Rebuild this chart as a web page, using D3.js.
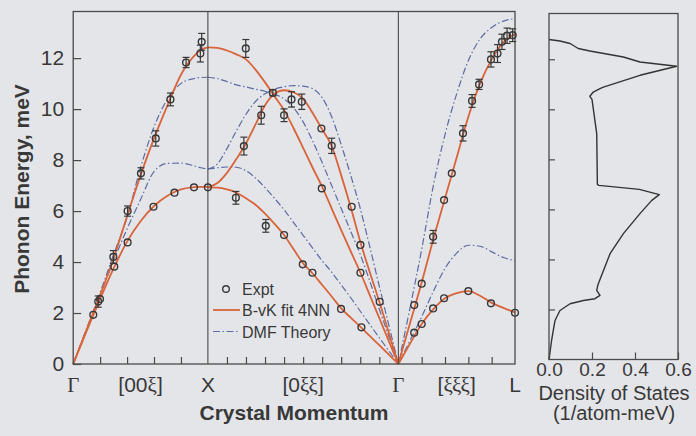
<!DOCTYPE html>
<html><head><meta charset="utf-8">
<script src="https://cdn.jsdelivr.net/npm/d3@7"></script>
<style>
html,body{margin:0;padding:0;background:#e4e5e9;}
svg{display:block;}
text{font-family:"Liberation Sans",Arial,Helvetica,sans-serif;fill:#383838;}
</style></head><body>
<svg id="c" width="696" height="436"></svg>
<script>
// ---------- DATA ----------
// Gamma–X  [00ξ]
const xiGX    = [0, .1, .2, .3, .4, .5, .6, .7, .8, .9, .95, 1];
const fitGX_L = [0, 1.35, 2.7, 4.15, 5.8, 7.4, 8.85, 10.15, 11.35, 12.1, 12.33, 12.42];
const fitGX_T = [0, 1.3, 2.55, 3.75, 4.8, 5.6, 6.2, 6.6, 6.85, 6.94, 6.95, 6.95];
const dmfGX_L = [0, 1.4, 2.8, 4.3, 5.75, 7.7, 9.3, 10.4, 11.0, 11.2, 11.24, 11.25];
const dmfGX_T = [0, 1.35, 2.7, 4.05, 5.3, 6.45, 7.55, 7.87, 7.88, 7.77, 7.7, 7.65];
// X–Gamma  [0ξξ]  (ξ runs 1 -> 0)
const xiXG    = [1, .95, .9, .85, .8, .75, .7, .65, .6, .55, .5, .45, .4, .35, .3, .25, .2, .15, .1, .05, 0];
const fitXG_a = [12.42, 12.4, 12.3, 12.15, 11.95, 11.55, 11.05, 10.5, 9.96, 9.25, 8.48, 7.7, 6.95, 6.1, 5.25, 4.42, 3.6, 2.7, 1.8, 0.9, 0];
const fitXG_b = [6.93, 7.1, 7.5, 8.05, 8.65, 9.4, 10.15, 10.6, 10.74, 10.66, 10.4, 9.85, 9.2, 8.55, 7.4, 6.15, 4.8, 3.6, 2.45, 1.22, 0];
const fitXG_c = [6.93, 6.92, 6.85, 6.72, 6.5, 6.25, 5.9, 5.5, 5.06, 4.5, 3.95, 3.55, 3.1, 2.65, 2.18, 1.82, 1.47, 1.1, 0.74, 0.37, 0];
const dmfXG_A = [11.25, 11.2, 11.08, 10.95, 10.87, 10.78, 10.7, 10.58, 10.4, 10.05, 9.5, 8.75, 7.9, 7.0, 6.1, 5.2, 4.3, 3.25, 2.15, 1.08, 0];
const dmfXG_B = [7.65, 7.85, 8.45, 9.15, 9.8, 10.3, 10.6, 10.78, 10.88, 10.92, 10.9, 10.8, 10.45, 9.7, 8.6, 7.4, 6.1, 4.6, 3.05, 1.52, 0];
const dmfXG_C = [7.65, 7.7, 7.73, 7.72, 7.58, 7.3, 6.92, 6.5, 6.05, 5.55, 5.05, 4.55, 4.05, 3.6, 3.1, 2.6, 2.07, 1.55, 1.03, 0.52, 0];
// Gamma–L  [ξξξ]
const xiGL    = [0, .05, .1, .15, .2, .25, .3, .35, .4, .45, .5];
const fitGL_L = [0, 1.6, 3.2, 4.9, 6.5, 8.1, 9.7, 11.0, 11.95, 12.62, 12.95];
const fitGL_T = [0, 0.8, 1.57, 2.15, 2.58, 2.78, 2.86, 2.68, 2.4, 2.2, 2.02];
const dmfGL_L = [0, 2.2, 4.5, 7.0, 9.0, 10.6, 11.9, 12.75, 13.2, 13.45, 13.55];
const dmfGL_T = [0, 0.92, 1.85, 2.85, 3.75, 4.35, 4.66, 4.62, 4.4, 4.18, 4.05];

// Experiment: segment, ξ, energy (meV), error (meV)
const exptSeg = ["GX","GX","GX","GX","GX","GX","GX","GX","GX","GX","GX","GX","GX","GX","GX","GX","GX",
  "XG","XG","XG","XG","XG","XG","XG","XG","XG","XG","XG","XG","XG","XG","XG","XG","XG","XG","XG","XG","XG",
  "GL","GL","GL","GL","GL","GL","GL","GL","GL","GL","GL","GL","GL","GL","GL","GL","GL","GL","GL","GL"];
const exptXi = [.149,.199,.305,.404,.596,.752,.897,1.0, .186,.298,.404,.503,.613,.722,.838,.944,.954,
  .659,.60,.502,.451,.404,.402,.301,.245,.199,.199,.194,.098, .801,.853,.811,.72,.696,.60,.561,.507,.35,
  .068,.1,.196,.229,.068,.1,.149,.196,.3,.397,.5, .149,.277,.316,.346,.397,.425,.444,.466,.49];
const exptE = [1.93,2.55,3.82,4.77,6.17,6.72,6.93,6.93, 2.45,4.2,6.0,7.48,8.85,10.38,11.83,12.18,12.64,
  10.64,5.06,3.91,3.58,9.24,6.89,2.16,6.17,4.67,3.58,1.44,2.44, 12.38,6.52,8.55,9.76,5.42,9.76,10.38,10.29,8.56,
  2.31,3.15,6.43,7.48,1.23,1.57,2.18,2.58,2.86,2.38,2.01, 4.99,9.05,10.32,10.97,11.95,12.18,12.64,12.88,12.9];
const exptErr = [0,0,0,0,0,0,0,0, .22,.25,.2,.22,.3,.25,.2,.33,.33,
  .12,0,0,0,0,0,0,0,0,0,0,0, .35,.25,.35,.35,.25,.25,.3,.3,.3,
  0,0,0,0,0,0,0,0,0,0,0, .25,.3,.25,.2,.3,.35,.3,.3,.25];

// Density of states (meV, 1/atom-meV)
const dosE = [0, 0.76, 1.56, 1.96, 2.23, 2.36, 2.43, 2.56, 2.76, 3.0, 4.23, 5.03, 5.83, 6.36, 6.59, 6.8, 6.96, 7.0, 9.03, 10.4, 10.52, 10.69, 10.83, 10.89, 11.36, 11.72, 11.89, 12.09, 12.33, 12.43, 12.63, 12.73, 12.79];
const dosD = [0, .012, .028, .051, .098, .16, .214, .237, .222, .228, .284, .346, .423, .478, .513, .42, .232, .225, .222, .2, .19, .206, .237, .253, .423, .594, .423, .346, .19, .136, .098, .051, 0];

const yTicks = [0, 2, 4, 6, 8, 10, 12];
const dosTicks = [0.0, 0.2, 0.4, 0.6];
const xLabels = [{q:"G0", t:"Γ"}, {q:"GXm", t:"[00ξ]"}, {q:"X", t:"X"}, {q:"XGm", t:"[0ξξ]"}, {q:"G1", t:"Γ"}, {q:"GLm", t:"[ξξξ]"}, {q:"L", t:"L"}];
const legendLabels = ["Expt", "B-vK fit 4NN", "DMF Theory"];

// ---------- GEOMETRY ----------
const R2 = Math.SQRT2, R3 = Math.sqrt(3);
const qf = {GX: xi => xi, XG: xi => 1 + (1 - xi) * R2, GL: xi => 1 + R2 + xi * R3};
const qMax = qf.GL(0.5);
const qNamed = {G0:0, GXm:0.5, X:1, XGm:1+R2/2, G1:1+R2, GLm:1+R2+R3/4, L:qMax};

const ORANGE = "#d9643a", BLUE = "#5d6ba3", INK = "#383838";
const svg = d3.select("#c");
svg.append("rect").attr("width", 696).attr("height", 436).attr("fill", "#e4e5e9");

const x = d3.scaleLinear().domain([0, qMax]).range([73.2, 515]);
const y = d3.scaleLinear().domain([0, 13.83]).range([364, 11.5]);

const g = svg.append("g");
const line = d3.line().curve(d3.curveMonotoneX);

function curve(seg, xis, vals, color, dmf) {
  const pts = xis.map((xi, i) => [x(qf[seg](xi)), y(vals[i])]);
  g.append("path").attr("d", line(pts)).attr("fill", "none")
    .attr("stroke", color).attr("stroke-width", dmf ? 1.2 : 1.8)
    .attr("stroke-dasharray", dmf ? "7,2.5,1.5,2.5" : null);
}
// DMF
curve("GX", xiGX, dmfGX_L, BLUE, true);
curve("GX", xiGX, dmfGX_T, BLUE, true);
curve("XG", xiXG, dmfXG_A, BLUE, true);
curve("XG", xiXG, dmfXG_B, BLUE, true);
curve("XG", xiXG, dmfXG_C, BLUE, true);
curve("GL", xiGL, dmfGL_L, BLUE, true);
curve("GL", xiGL, dmfGL_T, BLUE, true);
// fits
curve("GX", xiGX, fitGX_L, ORANGE, false);
curve("GX", xiGX, fitGX_T, ORANGE, false);
curve("XG", xiXG, fitXG_a, ORANGE, false);
curve("XG", xiXG, fitXG_b, ORANGE, false);
curve("XG", xiXG, fitXG_c, ORANGE, false);
curve("GL", xiGL, fitGL_L, ORANGE, false);
curve("GL", xiGL, fitGL_T, ORANGE, false);

// frame + symmetry lines
g.append("rect").attr("x", x(0)).attr("y", y(13.83)).attr("width", x(qMax) - x(0)).attr("height", y(0) - y(13.83))
  .attr("fill", "none").attr("stroke", "#4a4a4a").attr("stroke-width", 1.3);
[qNamed.X, qNamed.G1].forEach(q => g.append("line").attr("x1", x(q)).attr("x2", x(q))
  .attr("y1", y(0)).attr("y2", y(13.83)).attr("stroke", "#4a4a4a").attr("stroke-width", 1.1));

// axes
const xt = [.2,.4,.6,.8].map(qf.GX).concat([.9,.8,.7,.6,.5,.4,.3,.2,.1].map(qf.XG), [.1,.2,.3,.4].map(qf.GL));
const ax = g.append("g").attr("transform", `translate(0,${y(0)})`)
  .call(d3.axisBottom(x).tickValues(xt).tickSize(-7).tickFormat(""));
ax.select(".domain").remove();
ax.selectAll("line").attr("stroke", "#4a4a4a").attr("stroke-width", 1.2);

const ay = g.append("g").attr("transform", `translate(${x(0)},0)`)
  .call(d3.axisLeft(y).tickValues(yTicks).tickSizeInner(-8).tickSizeOuter(0).tickPadding(9));
ay.select(".domain").remove();
ay.selectAll("line").attr("stroke", "#4a4a4a").attr("stroke-width", 1.2);
ay.selectAll("text").style("font-size", "21px").attr("fill", INK).attr("font-family", "Liberation Sans, Arial, sans-serif");

// experiment points
const pts = g.append("g");
exptSeg.forEach((s, i) => {
  const px = x(qf[s](exptXi[i])), py = y(exptE[i]), e = exptErr[i];
  if (e > 0) {
    const y1 = y(exptE[i] + e), y2 = y(exptE[i] - e);
    pts.append("line").attr("x1", px).attr("x2", px).attr("y1", y1).attr("y2", y2).attr("stroke", INK).attr("stroke-width", 1.2);
    [y1, y2].forEach(yy => pts.append("line").attr("x1", px - 3.5).attr("x2", px + 3.5).attr("y1", yy).attr("y2", yy).attr("stroke", INK).attr("stroke-width", 1.2));
  }
  pts.append("circle").attr("cx", px).attr("cy", py).attr("r", 3.4).attr("fill", "none").attr("stroke", INK).attr("stroke-width", 1.4);
});

// x labels
xLabels.forEach(d => {
  const t = g.append("text").attr("x", x(qNamed[d.q])).attr("y", 392).attr("text-anchor", "middle").style("font-size", "21px");
  if (d.t === "Γ") { t.append("tspan").attr("font-family", "Liberation Serif, serif").text("Γ"); }
  else {
    [...d.t].forEach(ch => {
      const sp = t.append("tspan").text(ch);
      if (ch === "ξ") sp.attr("font-family", "Liberation Serif, serif");
    });
  }
});
g.append("text").attr("x", 294).attr("y", 420).attr("text-anchor", "middle")
  .style("font-size", "21px").style("font-weight", "bold").text("Crystal Momentum");
g.append("text").attr("transform", "translate(29,189) rotate(-90)").attr("text-anchor", "middle")
  .style("font-size", "21px").style("font-weight", "bold").text("Phonon Energy, meV");

// legend
const lg = g.append("g");
lg.append("circle").attr("cx", 226).attr("cy", 289).attr("r", 3.3).attr("fill", "none").attr("stroke", INK).attr("stroke-width", 1.4);
lg.append("line").attr("x1", 213).attr("x2", 240).attr("y1", 310).attr("y2", 310).attr("stroke", ORANGE).attr("stroke-width", 1.8);
lg.append("line").attr("x1", 213).attr("x2", 240).attr("y1", 331.5).attr("y2", 331.5).attr("stroke", BLUE).attr("stroke-width", 1.2).attr("stroke-dasharray", "7,2.5,1.5,2.5");
[294.5, 316, 337.5].forEach((yy, i) => lg.append("text").attr("x", 242).attr("y", yy).style("font-size", "16px").text(legendLabels[i]));

// ---------- DOS panel ----------
const xd = d3.scaleLinear().domain([0, 0.6]).range([549, 678]);
const yd = d3.scaleLinear().domain([0, 13.83]).range([359.5, 13.5]);
const dg = svg.append("g");
dg.append("path").attr("d", d3.line()(dosE.map((e, i) => [xd(dosD[i]), yd(e)])))
  .attr("fill", "none").attr("stroke", "#333").attr("stroke-width", 1.4).attr("stroke-linejoin", "round");
dg.append("rect").attr("x", xd(0)).attr("y", yd(13.83)).attr("width", xd(0.6) - xd(0)).attr("height", yd(0) - yd(13.83))
  .attr("fill", "none").attr("stroke", "#4a4a4a").attr("stroke-width", 1.3);
const dax = dg.append("g").attr("transform", `translate(0,${yd(0)})`)
  .call(d3.axisBottom(xd).tickValues(dosTicks).tickSizeInner(-7).tickSizeOuter(0).tickPadding(3).tickFormat(d3.format(".1f")));
dax.select(".domain").remove();
dax.selectAll("line").attr("stroke", "#4a4a4a").attr("stroke-width", 1.2);
dax.selectAll("text").style("font-size", "19px").attr("fill", INK).attr("font-family", "Liberation Sans, Arial, sans-serif");
const day = dg.append("g").attr("transform", `translate(${xd(0)},0)`)
  .call(d3.axisLeft(yd).tickValues(yTicks.slice(1)).tickSizeInner(-6).tickSizeOuter(0).tickFormat(""));
day.select(".domain").remove();
day.selectAll("line").attr("stroke", "#4a4a4a").attr("stroke-width", 1.2);
dg.append("text").attr("x", 614).attr("y", 400).attr("text-anchor", "middle").style("font-size", "20px").text("Density of States");
dg.append("text").attr("x", 614).attr("y", 420).attr("text-anchor", "middle").style("font-size", "20px").text("(1/atom-meV)");
</script>
</body></html>
